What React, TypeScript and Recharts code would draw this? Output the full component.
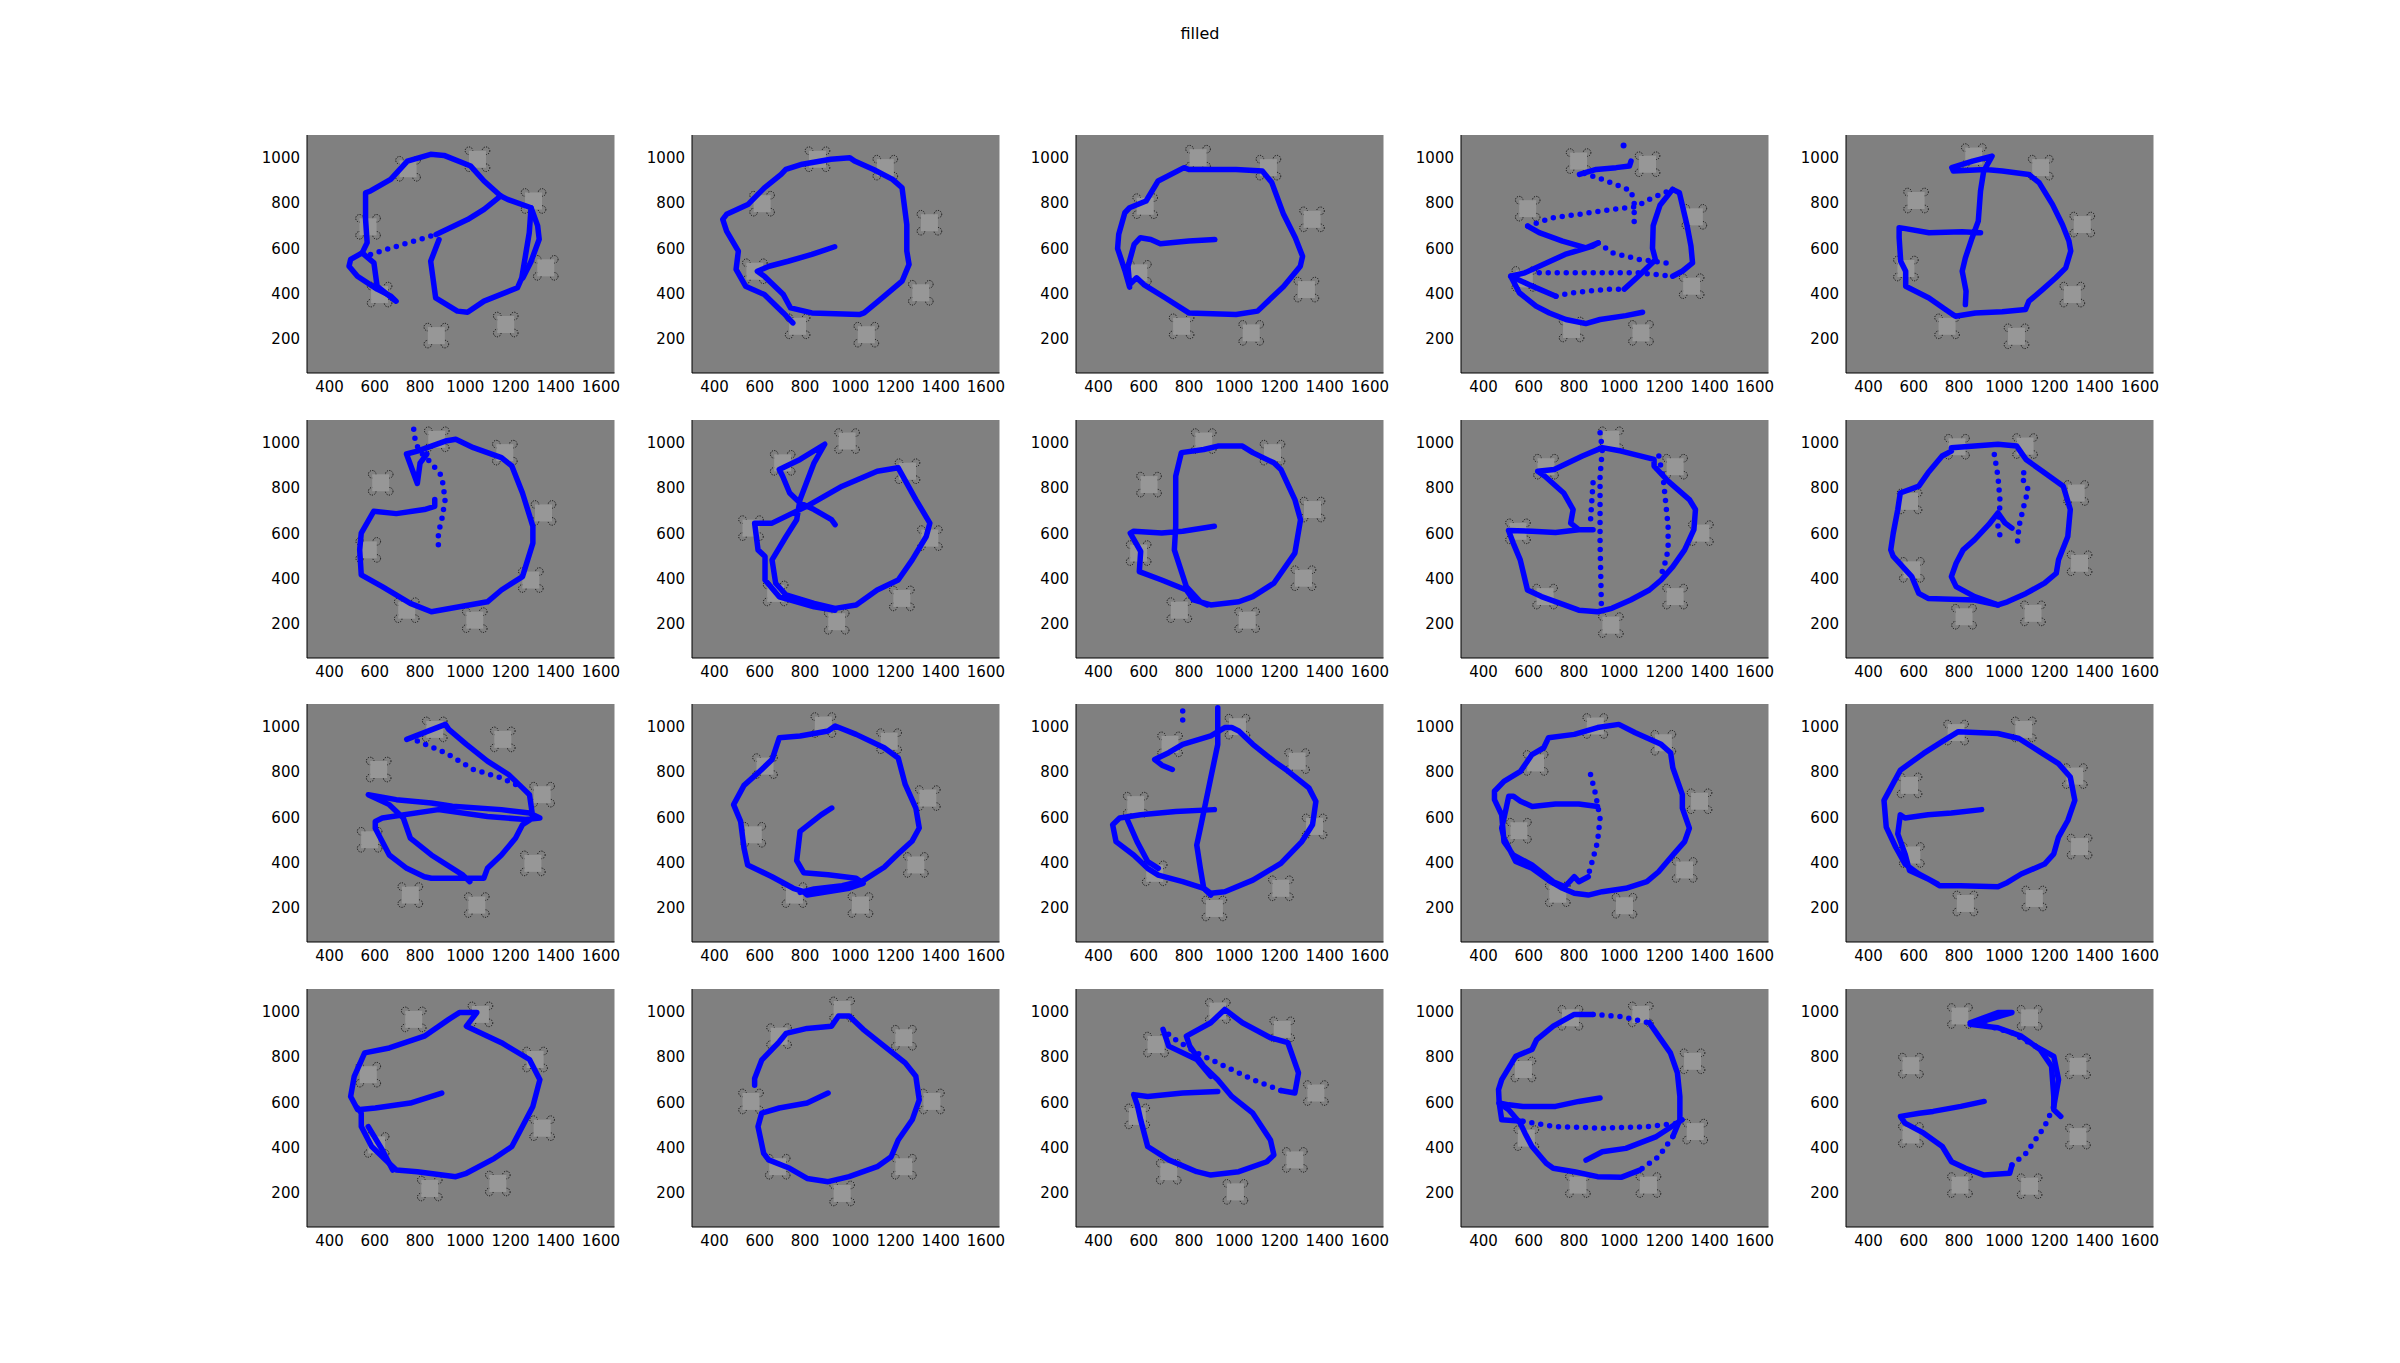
import React from 'react';
import { ComposedChart, Scatter, XAxis, YAxis, CartesianGrid } from 'recharts';

type Pt = [number, number];

const xTicks = [400, 600, 800, 1000, 1200, 1400, 1600];
const yTicks = [200, 400, 600, 800, 1000];
const xDomain: [number, number] = [300, 1660];
const yDomain: [number, number] = [50, 1100];

// drone positions (square markers), trajectories (dense = solid, sparse = dotted)
const sq1: Pt[] = [[747, 951], [1054, 993], [1302, 809], [1356, 514], [1179, 264], [872, 215], [621, 396], [570, 695]];
const solid1: Pt[][] = [
  [[884, 639], [847, 543], [869, 381], [965, 323], [1010, 318], [1083, 367], [1231, 426], [1250, 470], [1283, 669], [1291, 779], [1187, 816], [1157, 831], [1083, 897], [1024, 963], [906, 1010], [847, 1015], [744, 985], [670, 904], [581, 853], [559, 845], [559, 728], [566, 625], [544, 580], [493, 551], [486, 521], [523, 477], [610, 420], [671, 389], [694, 367]],
  [[1291, 779], [1320, 700], [1327, 640], [1290, 540], [1255, 470]],
  [[544, 580], [596, 536], [604, 477], [610, 433], [684, 374]],
  [[871, 661], [1010, 727], [1083, 772], [1157, 831]],
];
const dotted1: Pt[][] = [[[581, 573], [700, 610], [871, 661]]];

const sq2: Pt[] = [[855, 993], [1155, 956], [1350, 713], [1312, 404], [1071, 219], [767, 256], [578, 499], [610, 797]];
const solid2: Pt[][] = [
  [[931, 607], [830, 573], [725, 543], [641, 521], [589, 499], [620, 477], [704, 396], [736, 337], [830, 315], [1040, 308], [1061, 315], [1124, 367], [1229, 455], [1260, 529], [1250, 588], [1250, 705], [1229, 867], [1187, 904], [1103, 948], [1019, 985], [998, 1000], [914, 993], [788, 971], [715, 948], [694, 926], [620, 867], [547, 793], [453, 750], [436, 728], [453, 676], [505, 588], [495, 507], [537, 433], [620, 396], [704, 315], [746, 271]],
];
const dotted2: Pt[][] = [];

const sq3: Pt[] = [[840, 1000], [1151, 956], [1344, 728], [1319, 418], [1075, 227], [767, 256], [578, 492], [606, 786]];
const solid3: Pt[][] = [
  [[914, 639], [799, 632], [673, 620], [631, 639], [585, 647], [557, 617], [530, 520], [537, 440], [568, 470], [600, 440], [694, 382], [799, 315], [1008, 308], [1103, 323], [1218, 432], [1292, 521], [1302, 565], [1270, 647], [1218, 750], [1166, 890], [1124, 941], [1008, 948], [799, 948], [778, 956], [663, 897], [610, 809], [537, 779], [516, 757], [489, 662], [484, 599], [516, 503], [537, 429]],
];
const dotted3: Pt[][] = [];

const sq4: Pt[] = [[820, 985], [1125, 971], [1332, 739], [1320, 433], [1096, 227], [789, 242], [580, 465], [595, 775]];
const solid4: Pt[][] = [
  [[1103, 318], [1029, 303], [915, 286], [852, 268], [764, 286], [691, 315], [632, 345], [558, 404], [520, 477], [582, 492], [646, 521], [760, 573], [882, 610], [907, 624], [853, 602], [749, 632], [646, 669], [595, 698]],
  [[1236, 860], [1266, 845], [1300, 700], [1317, 610], [1324, 536], [1280, 500], [1236, 477]],
  [[1236, 860], [1180, 790], [1150, 700], [1147, 600], [1160, 550], [1088, 480], [1022, 420]],
  [[824, 926], [898, 948], [986, 956], [1045, 963], [1052, 985]],
  [[520, 477], [600, 440], [720, 389]],
];
const dotted4: Pt[][] = [
  [[595, 698], [705, 735], [823, 750], [970, 772], [1073, 783], [1147, 823], [1236, 860]],
  [[646, 492], [794, 492], [941, 492], [1088, 492], [1236, 477]],
  [[720, 389], [794, 404], [941, 419], [1022, 420]],
  [[907, 624], [970, 580], [1088, 551], [1206, 536], [1236, 521]],
  [[845, 930], [926, 904], [1000, 875], [1052, 853], [1066, 801], [1066, 700]],
];
const dots4: Pt[] = [[1019, 1054]];

const sq5: Pt[] = [[865, 1007], [1161, 956], [1345, 705], [1301, 396], [1054, 212], [747, 256], [565, 511], [610, 811]];
const solid5: Pt[][] = [
  [[828, 352], [831, 411], [814, 499], [828, 558], [858, 647], [885, 720], [895, 853], [909, 941], [946, 1007], [860, 985], [768, 956], [775, 941], [917, 948], [991, 941], [1109, 926], [1154, 890], [1213, 794], [1257, 705], [1286, 632], [1294, 588], [1272, 514], [1228, 470], [1169, 418], [1109, 367], [1094, 330], [991, 320], [872, 315], [784, 300], [740, 330], [667, 381], [564, 433], [564, 499], [542, 543], [535, 647], [535, 691], [557, 688], [667, 669], [814, 673], [895, 669]],
];
const dotted5: Pt[][] = [];

const sq6: Pt[] = [[874, 1015], [1175, 956], [1346, 690], [1290, 394], [1042, 217], [741, 261], [571, 527], [626, 823]];
const solid6: Pt[][] = [
  [[865, 749], [865, 719], [819, 705], [695, 687], [595, 697], [540, 601], [533, 527], [540, 417], [633, 365], [757, 291], [850, 254], [974, 276], [1098, 298], [1160, 350], [1253, 409], [1299, 557], [1299, 631], [1253, 778], [1206, 897], [1160, 934], [1036, 978], [958, 1015], [912, 1007], [788, 963], [740, 950], [788, 820], [800, 910], [830, 950]],
];
const dotted6: Pt[][] = [[[772, 1059], [780, 1000], [800, 960], [850, 910], [896, 852], [911, 749], [896, 660], [881, 601], [881, 513]]];

const sq7: Pt[] = [[986, 1007], [1253, 874], [1352, 579], [1228, 313], [940, 210], [670, 335], [561, 623], [701, 911]];
const solid7: Pt[][] = [
  [[933, 638], [917, 660], [840, 705], [778, 734], [732, 778], [701, 852], [686, 882], [778, 926], [887, 993], [840, 911], [778, 749], [763, 660], [716, 586], [654, 483], [670, 380], [716, 328], [840, 291], [933, 269], [1026, 284], [1119, 350], [1212, 394], [1274, 483], [1336, 586], [1352, 645], [1290, 749], [1212, 889], [1119, 874], [964, 808], [809, 720], [654, 645], [577, 645], [592, 527], [623, 498], [623, 394], [686, 320], [840, 276], [933, 261]],
];
const dotted7: Pt[][] = [];

const sq8: Pt[] = [[865, 1007], [1169, 956], [1346, 705], [1306, 402], [1057, 217], [757, 261], [577, 513], [623, 815]];
const solid8: Pt[][] = [
  [[912, 631], [772, 609], [679, 601], [555, 609], [540, 601], [586, 520], [580, 431], [679, 394], [788, 350], [819, 306], [896, 284], [1020, 298], [1082, 321], [1175, 380], [1268, 513], [1293, 660], [1268, 749], [1206, 882], [1175, 911], [1082, 956], [1036, 985], [927, 985], [865, 970], [766, 956], [741, 852], [741, 631], [735, 527], [788, 365], [850, 298], [881, 284]],
];
const dotted8: Pt[][] = [];

const sq9: Pt[] = [[963, 1015], [1247, 894], [1361, 601], [1247, 321], [963, 195], [672, 321], [552, 609], [676, 894]];
const solid9: Pt[][] = [
  [[884, 616], [821, 616], [718, 604], [614, 609], [510, 613], [531, 557], [562, 483], [594, 350], [656, 321], [739, 291], [821, 261], [905, 254], [967, 269], [1050, 306], [1133, 350], [1185, 394], [1237, 453], [1289, 527], [1330, 616], [1337, 705], [1310, 749], [1216, 830], [1154, 897], [1154, 926], [1008, 963], [925, 978], [837, 941], [712, 882], [639, 874], [671, 852], [754, 778], [796, 705], [785, 645], [821, 616]],
];
const dotted9: Pt[][] = [
  [[1175, 941], [1195, 837], [1216, 631], [1216, 527], [1195, 439], [1175, 409]],
  [[884, 823], [873, 660]],
  [[915, 1044], [925, 970], [915, 852], [915, 557], [921, 276]],
];

const sq10: Pt[] = [[791, 982], [1092, 985], [1318, 778], [1333, 468], [1127, 247], [822, 232], [591, 439], [581, 741]];
const solid10: Pt[][] = [
  [[766, 963], [766, 978], [972, 993], [1055, 985], [1096, 926], [1178, 867], [1261, 808], [1292, 705], [1281, 586], [1240, 483], [1230, 424], [1178, 380], [1096, 335], [1014, 298], [972, 284], [869, 306], [663, 313], [622, 335], [591, 409], [509, 498], [498, 527], [509, 601], [529, 705], [540, 778], [622, 808], [663, 867], [725, 941], [766, 963]],
  [[972, 284], [869, 321], [787, 365], [766, 409], [787, 468], [818, 527], [869, 572], [931, 638], [972, 690], [1003, 646], [1034, 623]],
];
const dotted10: Pt[][] = [
  [[956, 948], [972, 852], [982, 734], [972, 631], [982, 586]],
  [[1086, 867], [1075, 852], [1106, 793], [1086, 719], [1065, 631], [1055, 527]],
];

const sq11: Pt[] = [[865, 988], [1166, 944], [1340, 700], [1299, 397], [1051, 213], [757, 257], [577, 501], [617, 811]];
const solid11: Pt[][] = [
  [[741, 944], [912, 1010], [927, 988], [1005, 922], [1098, 848], [1191, 789], [1253, 730], [1284, 700], [1299, 597], [1253, 567], [1222, 508], [1160, 434], [1098, 375], [1082, 331], [1005, 331], [850, 331], [819, 338], [741, 375], [664, 434], [602, 552], [602, 582], [633, 597], [881, 634], [1098, 604], [1268, 590], [1330, 597], [1284, 619], [1160, 634], [943, 649], [850, 663], [695, 678], [571, 700], [664, 656], [726, 597], [757, 508], [850, 434], [990, 345], [1020, 316]],
];
const dotted11: Pt[][] = [[[788, 937], [912, 885], [1036, 811], [1160, 774], [1253, 730]]];

const sq12: Pt[] = [[881, 1007], [1172, 936], [1343, 685], [1290, 390], [1045, 213], [753, 257], [571, 523], [623, 826]];
const solid12: Pt[][] = [
  [[918, 641], [871, 611], [778, 538], [763, 409], [794, 356], [902, 347], [1026, 331], [1057, 309], [995, 287], [809, 257], [794, 272], [748, 287], [654, 338], [592, 368], [546, 390], [530, 464], [515, 582], [484, 656], [530, 741], [592, 796], [654, 855], [686, 951], [778, 959], [902, 981], [933, 1003], [1026, 966], [1150, 907], [1212, 862], [1243, 745], [1290, 641], [1305, 553], [1274, 496], [1212, 439], [1150, 380], [1057, 321], [964, 298], [840, 284], [778, 269]],
];
const dotted12: Pt[][] = [];

const sq13: Pt[] = [[1014, 1000], [1278, 848], [1355, 560], [1206, 287], [912, 198], [648, 353], [564, 656], [716, 922]];
const solid13: Pt[][] = [
  [[912, 634], [741, 626], [586, 611], [493, 597], [462, 567], [477, 493], [555, 434], [617, 375], [664, 345], [772, 316], [865, 287], [896, 265], [958, 272], [1082, 323], [1206, 397], [1299, 493], [1346, 567], [1361, 670], [1330, 730], [1237, 804], [1175, 848], [1082, 922], [1020, 981], [989, 996], [958, 996], [896, 959], [772, 922], [710, 885], [648, 855], [680, 830], [726, 811]],
  [[524, 597], [570, 493], [617, 405], [664, 375]],
  [[927, 1084], [927, 922], [896, 774], [850, 552], [834, 478], [850, 375], [865, 287], [896, 257]],
];
const dotted13: Pt[][] = [[[772, 1069], [772, 1010]]];

const sq14: Pt[] = [[894, 1003], [1195, 929], [1355, 671], [1289, 368], [1023, 210], [728, 261], [556, 541], [630, 840]];
const solid14: Pt[][] = [
  [[904, 648], [821, 659], [718, 659], [615, 648], [563, 671], [532, 693], [511, 693], [500, 641], [480, 552], [490, 508], [542, 405], [614, 375], [697, 316], [749, 287], [801, 265], [863, 257], [925, 272], [1029, 287], [1122, 316], [1174, 360], [1237, 434], [1289, 493], [1310, 552], [1279, 641], [1279, 700], [1237, 818], [1227, 885], [1185, 922], [1071, 973], [998, 1010], [904, 996], [801, 966], [687, 951], [666, 907], [614, 877], [563, 803], [490, 759], [448, 715], [448, 678], [480, 611], [490, 493], [531, 434], [614, 390], [708, 316], [760, 294], [801, 338], [821, 316], [863, 338]],
];
const dotted14: Pt[][] = [[[873, 789], [894, 707], [915, 597], [904, 493], [884, 419], [863, 345]]];

const sq15: Pt[] = [[787, 974], [1086, 988], [1312, 782], [1333, 471], [1133, 242], [828, 220], [591, 434], [581, 741]];
const solid15: Pt[][] = [
  [[900, 634], [766, 619], [663, 611], [561, 597], [540, 611], [529, 527], [561, 439], [581, 365], [663, 328], [715, 298], [807, 298], [972, 294], [1014, 313], [1075, 350], [1178, 394], [1219, 439], [1240, 513], [1281, 586], [1312, 675], [1292, 778], [1240, 837], [1158, 889], [1065, 948], [972, 970], [797, 978], [725, 934], [643, 882], [540, 808], [468, 675], [478, 557], [520, 468], [561, 394], [622, 350], [705, 306]],
];
const dotted15: Pt[][] = [];

const sq16: Pt[] = [[772, 966], [1067, 988], [1309, 789], [1340, 486], [1144, 242], [843, 220], [608, 412], [571, 722]];
const solid16: Pt[][] = [
  [[896, 641], [757, 597], [602, 575], [524, 567], [493, 626], [509, 715], [555, 818], [664, 840], [819, 892], [927, 966], [974, 996], [1051, 996], [1005, 936], [1160, 863], [1284, 789], [1330, 700], [1299, 582], [1237, 464], [1206, 405], [1129, 353], [1005, 287], [958, 272], [788, 294], [695, 301], [648, 346], [586, 405], [540, 493], [540, 552], [524, 575]],
  [[571, 493], [633, 390], [679, 301]],
];
const dotted16: Pt[][] = [];

const sq17: Pt[] = [[964, 1010], [1237, 885], [1361, 604], [1237, 316], [964, 198], [679, 316], [561, 604], [685, 892]];
const solid17: Pt[][] = [
  [[902, 641], [809, 597], [686, 575], [608, 552], [592, 493], [617, 375], [639, 346], [732, 309], [809, 264], [902, 250], [995, 272], [1119, 316], [1181, 360], [1212, 434], [1274, 523], [1305, 611], [1290, 715], [1243, 774], [1150, 848], [1057, 922], [995, 981], [948, 981], [917, 936], [809, 926], [716, 904], [686, 867], [608, 786], [577, 705], [577, 675]],
];
const dotted17: Pt[][] = [];

const sq18: Pt[] = [[927, 1003], [1212, 922], [1361, 641], [1268, 346], [1005, 205], [710, 294], [571, 538], [654, 855]];
const solid18: Pt[][] = [
  [[927, 648], [772, 641], [617, 626], [555, 634], [571, 589], [586, 523], [617, 405], [710, 346], [834, 294], [896, 279], [1020, 294], [1144, 338], [1175, 368], [1160, 434], [1082, 552], [989, 626], [927, 700], [865, 759], [803, 848], [788, 892], [896, 951], [958, 1010], [1036, 951], [1160, 885], [1237, 863], [1284, 730], [1268, 641], [1206, 652]],
  [[685, 922], [710, 848], [834, 789], [896, 715]],
];
const dotted18: Pt[][] = [[[1206, 652], [1082, 700], [958, 759], [834, 818], [726, 885], [685, 922]]];

const sq19: Pt[] = [[784, 973], [1095, 988], [1324, 781], [1336, 471], [1129, 235], [817, 235], [589, 442], [576, 745]];
const solid19: Pt[][] = [
  [[915, 619], [821, 604], [718, 582], [574, 582], [511, 589], [469, 597], [480, 523], [574, 516]],
  [[1278, 523], [1164, 449], [1029, 397], [925, 382], [853, 345]],
  [[469, 597], [466, 656], [480, 700], [542, 803], [614, 833], [635, 877], [708, 936], [801, 988], [884, 988]],
  [[1133, 951], [1174, 892], [1226, 818], [1257, 730], [1268, 626], [1268, 523], [1237, 449]],
  [[1091, 301], [1008, 269], [904, 272], [801, 294], [708, 309], [677, 331], [614, 405], [583, 464], [562, 508], [511, 567], [469, 597]],
];
const dotted19: Pt[][] = [
  [[574, 516], [718, 493], [925, 486], [1133, 493], [1257, 508], [1278, 523]],
  [[884, 988], [1008, 978], [1133, 951]],
  [[1237, 449], [1174, 360], [1091, 301]],
];

const sq20: Pt[] = [[804, 981], [1112, 973], [1326, 759], [1326, 449], [1112, 230], [804, 235], [587, 456], [587, 762]];
const solid20: Pt[][] = [
  [[911, 604], [808, 582], [685, 560], [624, 552], [541, 538], [561, 508], [644, 464], [726, 405], [767, 338], [829, 309], [911, 279], [1024, 287], [1034, 323]],
  [[1219, 582], [1240, 700], [1219, 803], [1137, 848]],
  [[849, 951], [972, 996], [1034, 996], [911, 959], [849, 944], [972, 929], [1075, 892], [1158, 833], [1209, 759], [1219, 626], [1219, 567], [1250, 538]],
];
const dotted20: Pt[][] = [
  [[1034, 323], [1096, 375], [1178, 493], [1219, 582]],
  [[1137, 848], [1034, 907], [931, 936], [849, 951]],
];

const panels = [
  { sq: sq1, solid: solid1, dotted: dotted1, dots: [] as Pt[] },
  { sq: sq2, solid: solid2, dotted: dotted2, dots: [] as Pt[] },
  { sq: sq3, solid: solid3, dotted: dotted3, dots: [] as Pt[] },
  { sq: sq4, solid: solid4, dotted: dotted4, dots: dots4 },
  { sq: sq5, solid: solid5, dotted: dotted5, dots: [] as Pt[] },
  { sq: sq6, solid: solid6, dotted: dotted6, dots: [] as Pt[] },
  { sq: sq7, solid: solid7, dotted: dotted7, dots: [] as Pt[] },
  { sq: sq8, solid: solid8, dotted: dotted8, dots: [] as Pt[] },
  { sq: sq9, solid: solid9, dotted: dotted9, dots: [] as Pt[] },
  { sq: sq10, solid: solid10, dotted: dotted10, dots: [] as Pt[] },
  { sq: sq11, solid: solid11, dotted: dotted11, dots: [] as Pt[] },
  { sq: sq12, solid: solid12, dotted: dotted12, dots: [] as Pt[] },
  { sq: sq13, solid: solid13, dotted: dotted13, dots: [] as Pt[] },
  { sq: sq14, solid: solid14, dotted: dotted14, dots: [] as Pt[] },
  { sq: sq15, solid: solid15, dotted: dotted15, dots: [] as Pt[] },
  { sq: sq16, solid: solid16, dotted: dotted16, dots: [] as Pt[] },
  { sq: sq17, solid: solid17, dotted: dotted17, dots: [] as Pt[] },
  { sq: sq18, solid: solid18, dotted: dotted18, dots: [] as Pt[] },
  { sq: sq19, solid: solid19, dotted: dotted19, dots: [] as Pt[] },
  { sq: sq20, solid: solid20, dotted: dotted20, dots: [] as Pt[] },
];

// layout (pixels)
const colLefts = [307, 691.7, 1076.3, 1461, 1845.7];
const rowTops = [135, 419.7, 704.4, 989];
const PW = 307.5;
const PH = 238;
const YW = 60;
const XH = 30;
const MT = 10;
const MR = 10;

const BLUE = '#0000ff';
const FONT = "'DejaVu Sans', sans-serif";

const toXY = (pts: Pt[]) => pts.map(([x, y]) => ({ x, y }));

const Empty = () => <g />;

const Dot = (props: any) => {
  const { cx, cy } = props;
  if (cx == null || cy == null) return <g />;
  return <circle cx={cx} cy={cy} r={3} fill={BLUE} />;
};

// square drone body with dashed rotor rings at its corners
const Drone = (props: any) => {
  const { cx, cy } = props;
  if (cx == null || cy == null) return <g />;
  const h = 8.5;
  const corners = [[-h, -h], [h, -h], [-h, h], [h, h]];
  return (
    <g>
      {corners.map(([dx, dy], i) => (
        <circle key={i} cx={cx + dx} cy={cy + dy} r={3.8} fill="none" stroke="#111" strokeWidth={1} strokeDasharray="1.2 1.3" />
      ))}
      <rect x={cx - h} y={cy - h} width={2 * h} height={2 * h} fill="#979797" />
    </g>
  );
};

const tickStyle = { fill: '#000', fontSize: 15, fontFamily: FONT };

function Panel({ p, left, top }: { p: typeof panels[number]; left: number; top: number }) {
  return (
    <div style={{ position: 'absolute', left: left - YW, top: top - MT }}>
      <ComposedChart width={YW + PW + MR} height={MT + PH + XH} margin={{ top: MT, right: MR, bottom: 0, left: 0 }}>
        <CartesianGrid fill="#808080" horizontal={false} vertical={false} stroke="none" />
        <XAxis type="number" dataKey="x" domain={xDomain} ticks={xTicks} allowDataOverflow interval={0}
          height={XH} tickSize={0} tickMargin={8} tickLine={false} axisLine={{ stroke: '#000' }} tick={tickStyle} />
        <XAxis xAxisId="bi" type="number" dataKey="x" domain={xDomain} ticks={xTicks} allowDataOverflow interval={0}
          orientation="bottom" mirror height={0} tickSize={6} tick={Empty} axisLine={false} tickLine={{ stroke: '#000' }} />
        <XAxis xAxisId="t" type="number" dataKey="x" domain={xDomain} ticks={xTicks} allowDataOverflow interval={0}
          orientation="top" mirror height={0} tickSize={6} tick={Empty} axisLine={{ stroke: '#000' }} tickLine={{ stroke: '#000' }} />
        <YAxis type="number" dataKey="y" domain={yDomain} ticks={yTicks} allowDataOverflow interval={0}
          width={YW} tickSize={0} tickMargin={7} tickLine={false} axisLine={{ stroke: '#000' }} tick={tickStyle} />
        <YAxis yAxisId="li" type="number" dataKey="y" domain={yDomain} ticks={yTicks} allowDataOverflow interval={0}
          orientation="left" mirror width={0} tickSize={6} tick={Empty} axisLine={false} tickLine={{ stroke: '#000' }} />
        <YAxis yAxisId="r" type="number" dataKey="y" domain={yDomain} ticks={yTicks} allowDataOverflow interval={0}
          orientation="right" mirror width={0} tickSize={6} tick={Empty} axisLine={{ stroke: '#000' }} tickLine={{ stroke: '#000' }} />
        <Scatter data={toXY(p.sq)} shape={Drone} isAnimationActive={false} />
        {p.solid.map((pts, i) => (
          <Scatter key={'s' + i} data={toXY(pts)} fill={BLUE} shape={Empty} isAnimationActive={false}
            line={{ stroke: BLUE, strokeWidth: 5.5, strokeLinecap: 'round', strokeLinejoin: 'round' }} />
        ))}
        {p.dotted.map((pts, i) => (
          <Scatter key={'d' + i} data={toXY(pts)} fill={BLUE} shape={Empty} isAnimationActive={false}
            line={{ stroke: BLUE, strokeWidth: 5.5, strokeLinecap: 'round', strokeDasharray: '0 9' }} />
        ))}
        {p.dots.length > 0 && <Scatter data={toXY(p.dots)} shape={Dot} isAnimationActive={false} />}
      </ComposedChart>
    </div>
  );
}

export default function App() {
  return (
    <div style={{ position: 'absolute', left: 0, top: 0, width: 2400, height: 1363, background: '#fff', fontFamily: FONT }}>
      <div style={{ position: 'absolute', left: 0, top: 24, width: 2400, textAlign: 'center', fontSize: 16, lineHeight: '20px', color: '#000' }}>
        filled
      </div>
      {panels.map((p, i) => (
        <Panel key={i} p={p} left={colLefts[i % 5]} top={rowTops[Math.floor(i / 5)]} />
      ))}
    </div>
  );
}
